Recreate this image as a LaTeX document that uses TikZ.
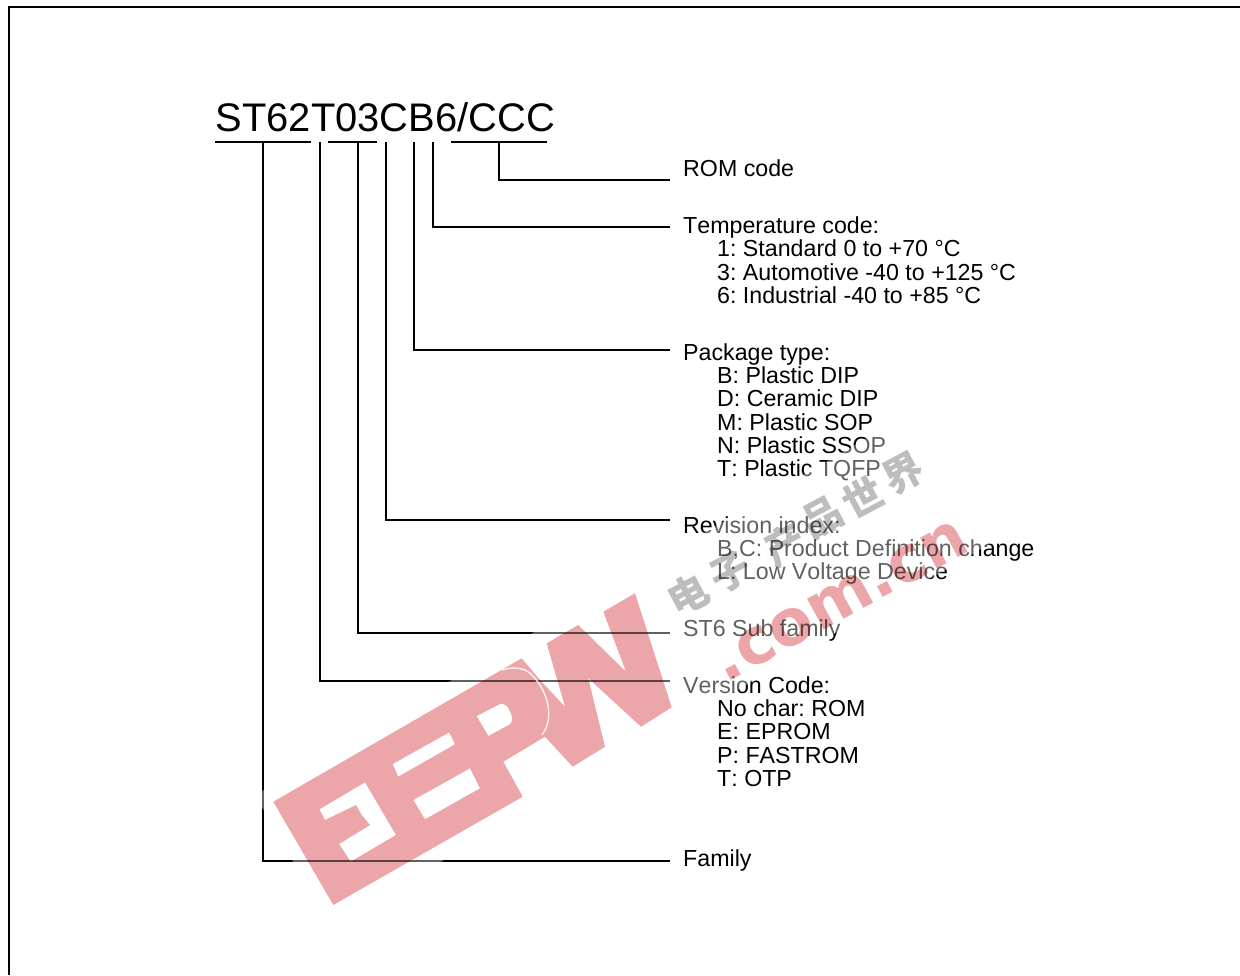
\documentclass[tikz,border=0pt]{standalone}
\usepackage{fontspec}
\setmainfont[Kerning=Off]{Liberation Sans}
\newfontfamily\cjkfont{Noto Sans CJK SC}
\newfontface\wmfont{DejaVu Sans Bold}
\usetikzlibrary{calc}
\definecolor{wmpink}{HTML}{ECA6A9}
\definecolor{wmgrey}{HTML}{BDBDBD}
\tikzset{
  conn/.style={draw=black,line width=2pt,line join=miter},
  bar/.style={draw=black,line width=2pt},
  frame/.style={draw=black,line width=2pt},
  label/.style={anchor=base west,inner sep=0pt,font=\fontsize{23.2}{23.3}\selectfont\frenchspacing,align=left,text=black},
  sub/.style={label},
  title/.style={anchor=base west,inner sep=0pt,font=\fontsize{39.9}{40}\selectfont,text=black},
  haze/.style={fill=white,opacity=.38,draw=none},
  logo/.style={fill=wmpink,draw=none,even odd rule,blend mode=multiply},
  logoarc/.style={draw=white,line width=1.4pt,opacity=.85},
  wmtext/.style={inner sep=0pt,text=wmpink,rotate=28.5,blend mode=multiply,font=\fontsize{64}{64}\selectfont\wmfont},
  wmcjk/.style={inner sep=0pt,text=wmgrey,rotate=28,blend mode=multiply,font=\fontsize{40}{40}\selectfont\cjkfont\bfseries},
}
\begin{document}
\begin{tikzpicture}[x=1pt,y=-1pt]
\useasboundingbox (0,0) rectangle (1240,975);
% frame
\coordinate (fbl) at (9,975);
\coordinate (ftl) at (9,7);
\coordinate (ftr) at (1240,7);
\draw[frame] (fbl) -- (ftl) -- (ftr);
% title
\node[title] (title) at (215.5,131.5) {ST62T03CB6/CCC};
% bars
\coordinate (b1l) at (215,142); \coordinate (b1r) at (311,142);
\coordinate (b2l) at (328,142); \coordinate (b2r) at (377,142);
\coordinate (b3l) at (451,142); \coordinate (b3r) at (547,142);
\draw[bar] (b1l) -- (b1r);
\draw[bar] (b2l) -- (b2r);
\draw[bar] (b3l) -- (b3r);
% labels
\node[label] (rom) at (683,176) {ROM code};
\node[label] (temp) at (683,233) {Temperature code:};
\node[sub] (temp1) at (717,256) {1: Standard 0 to +70 °C};
\node[sub] (temp2) at (717,280) {3: Automotive -40 to +125 °C};
\node[sub] (temp3) at (717,303) {6: Industrial -40 to +85 °C};
\node[label] (pkg) at (683,360) {Package type:};
\node[sub] (pkg1) at (717,383) {B: Plastic DIP};
\node[sub] (pkg2) at (717,406) {D: Ceramic DIP};
\node[sub] (pkg3) at (717,430) {M: Plastic SOP};
\node[sub] (pkg4) at (717,453) {N: Plastic SSOP};
\node[sub] (pkg5) at (717,476) {T: Plastic TQFP};
\node[label] (rev) at (683,533) {Revision index:};
\node[sub] (rev1) at (717,556) {B,C: Product Definition change};
\node[sub] (rev2) at (717,579) {L: Low Voltage Device};
\node[label] (subf) at (683,636) {ST6 Sub family};
\node[label] (ver) at (683,693) {Version Code:};
\node[sub] (ver1) at (717,716) {No char: ROM};
\node[sub] (ver2) at (717,739) {E: EPROM};
\node[sub] (ver3) at (717,763) {P: FASTROM};
\node[sub] (ver4) at (717,786) {T: OTP};
\node[label] (fam) at (683,866) {Family};
% connector tops and ends
\coordinate (tRom) at (499,142);   \coordinate (eRom) at (670,180);
\coordinate (tTemp) at (433,142);  \coordinate (eTemp) at (670,227);
\coordinate (tPkg) at (414,142);   \coordinate (ePkg) at (670,350);
\coordinate (tRev) at (386,142);   \coordinate (eRev) at (670,520);
\coordinate (tSub) at (358,142);   \coordinate (eSub) at (670,633);
\coordinate (tVer) at (320,142);   \coordinate (eVer) at (670,681);
\coordinate (tFam) at (263,142);   \coordinate (eFam) at (670,861);
\draw[conn] (tRom) |- (eRom);
\draw[conn] (tTemp) |- (eTemp);
\draw[conn] (tPkg) |- (ePkg);
\draw[conn] (tRev) |- (eRev);
\draw[conn] (tSub) |- (eSub);
\draw[conn] (tVer) |- (eVer);
\draw[conn] (tFam) |- (eFam);
% watermark haze
\fill[haze] (255,795) -- (925,404) -- (1000,538) -- (330,926) -- cycle;
% watermark logo
\fill[logo] (273.3,801.7) -- (521.7,658.3) -- (540,680) -- (565,706.7) -- (546.7,643.3)
  -- (578.3,625) -- (626,671.7) -- (603.3,611.7) -- (635,593.3) -- (671.7,707.3)
  -- (641,726.7) -- (588.3,678.3) -- (605,746.7) -- (572.7,766.7) -- (545,736.7)
  -- (503.3,761.7) -- (522.7,796.7) -- (333.3,905) -- cycle
  (476.7,716) -- (498,705) .. controls (506,701) and (509,708) .. (511.7,716)
  .. controls (513,722) and (511,724) .. (507,726) -- (488.3,736) -- cycle
  (392.7,764) -- (449.3,732.3) -- (455,744.3) -- (398.3,776.7) -- cycle
  (413.3,800) -- (470,768.3) -- (480,788.3) -- (425,819.3) -- cycle
  (319.3,809.3) -- (365,782.3) -- (396,835) -- (350.7,861.7) -- (339,844) -- (370,825)
  -- (361.7,815) -- (356,805) -- (325,820) -- cycle;
\draw[logoarc] (502,670) .. controls (515,666) and (526,668) .. (533,676)
  .. controls (546,690) and (556,716) .. (542,735);
\node[wmtext] (wmcom) at (841,601) {.com.cn};
\node[wmcjk] (wmc1) at (688,595) {电};
\node[wmcjk] (wmc2) at (730,572) {子};
\node[wmcjk] (wmc3) at (785,545) {产};
\node[wmcjk] (wmc4) at (822,517) {品};
\node[wmcjk] (wmc5) at (863,497) {世};
\node[wmcjk] (wmc6) at (903,473) {界};
\end{tikzpicture}
\end{document}
